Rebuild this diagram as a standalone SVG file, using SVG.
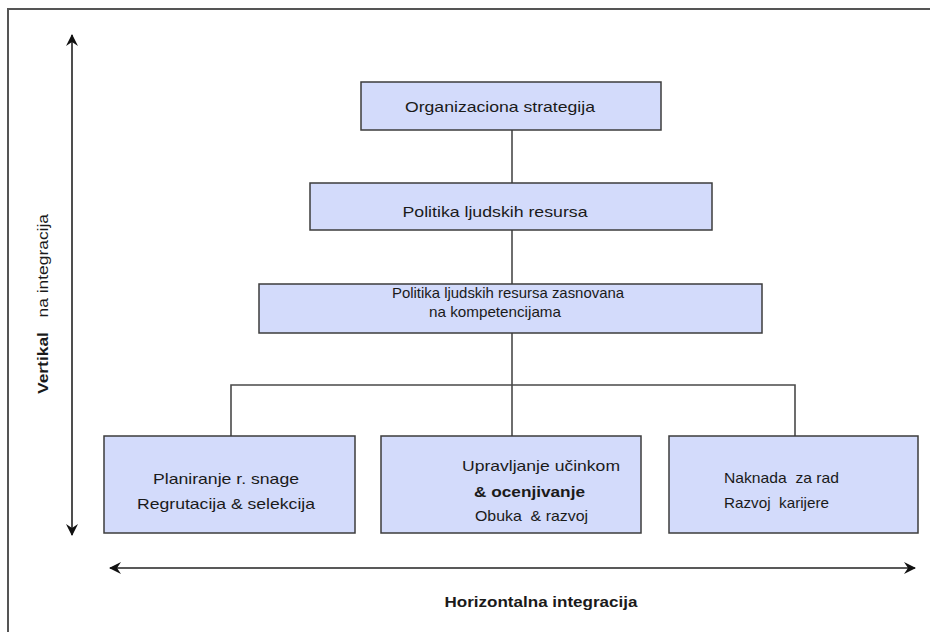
<svg xmlns="http://www.w3.org/2000/svg" width="930" height="632" viewBox="0 0 930 632">
<style>
.box{fill:#d3dbfb;stroke:#3c3c3c;stroke-width:1.5}
.t{font-family:"Liberation Sans",Arial,sans-serif;font-size:15px;fill:#1a1a1a;white-space:pre}
.c{fill:none;stroke:#4a4a4a;stroke-width:1.6}
.ax{fill:none;stroke:#222;stroke-width:1.6}
</style>
<defs>
<marker id="ah" viewBox="0 0 12 12" refX="11" refY="6" markerWidth="12" markerHeight="12" markerUnits="userSpaceOnUse" orient="auto-start-reverse">
<path d="M0,0 L12,6 L0,12 L4,6 Z" fill="#111"/>
</marker>
</defs>
<rect x="8" y="9" width="940" height="640" fill="none" stroke="#555" stroke-width="2"/>
<g id="connectors">
<line class="c" x1="512" y1="129" x2="512" y2="183"/>
<line class="c" x1="512" y1="230" x2="512" y2="284"/>
<line class="c" x1="512" y1="333" x2="512" y2="436"/>
<polyline class="c" points="231,436 231,385 795,385 795,436"/>
</g>
<g id="axes">
<line class="ax" x1="72" y1="535" x2="72" y2="35" marker-start="url(#ah)" marker-end="url(#ah)"/>
<line class="ax" x1="110" y1="568" x2="915" y2="568" marker-start="url(#ah)" marker-end="url(#ah)"/>
<text class="t" x="541" y="607" text-anchor="middle" font-weight="bold" textLength="193" lengthAdjust="spacingAndGlyphs">Horizontalna integracija</text>
<text class="t" xml:space="preserve" transform="translate(48,304) rotate(-90)" text-anchor="middle" textLength="180" lengthAdjust="spacingAndGlyphs"><tspan font-weight="bold">Vertikal</tspan>   na integracija</text>
</g>
<g id="n1">
<rect class="box" x="361" y="82" width="300" height="48"/>
<text class="t" x="500" y="112" text-anchor="middle" textLength="190" lengthAdjust="spacingAndGlyphs">Organizaciona strategija</text>
</g>
<g id="n2">
<rect class="box" x="310" y="183" width="402" height="47"/>
<text class="t" x="495" y="217" text-anchor="middle" textLength="185" lengthAdjust="spacingAndGlyphs">Politika ljudskih resursa</text>
</g>
<g id="n3">
<rect class="box" x="259" y="284" width="503" height="49"/>
<text class="t" x="508" y="298" text-anchor="middle" font-size="13" textLength="232" lengthAdjust="spacingAndGlyphs">Politika ljudskih resursa zasnovana</text>
<text class="t" x="429" y="317" font-size="13" textLength="132" lengthAdjust="spacingAndGlyphs">na kompetencijama</text>
</g>
<g id="n4">
<rect class="box" x="104" y="436" width="251" height="97"/>
<text class="t" x="226" y="484" text-anchor="middle" textLength="146" lengthAdjust="spacingAndGlyphs">Planiranje r. snage</text>
<text class="t" x="226" y="509" text-anchor="middle" textLength="178" lengthAdjust="spacingAndGlyphs">Regrutacija &amp; selekcija</text>
</g>
<g id="n5">
<rect class="box" x="381" y="436" width="260" height="97"/>
<text class="t" x="462" y="471" textLength="158" lengthAdjust="spacingAndGlyphs">Upravljanje učinkom</text>
<text class="t" x="474" y="497" font-weight="bold" textLength="111" lengthAdjust="spacingAndGlyphs">&amp; ocenjivanje</text>
<text class="t" xml:space="preserve" x="475" y="521" font-size="13" textLength="113" lengthAdjust="spacingAndGlyphs">Obuka  &amp; razvoj</text>
</g>
<g id="n6">
<rect class="box" x="669" y="436" width="249" height="97"/>
<text class="t" xml:space="preserve" x="724" y="483" font-size="14" textLength="115" lengthAdjust="spacingAndGlyphs">Naknada  za rad</text>
<text class="t" xml:space="preserve" x="724" y="508" font-size="14" textLength="105" lengthAdjust="spacingAndGlyphs">Razvoj  karijere</text>
</g>
</svg>
